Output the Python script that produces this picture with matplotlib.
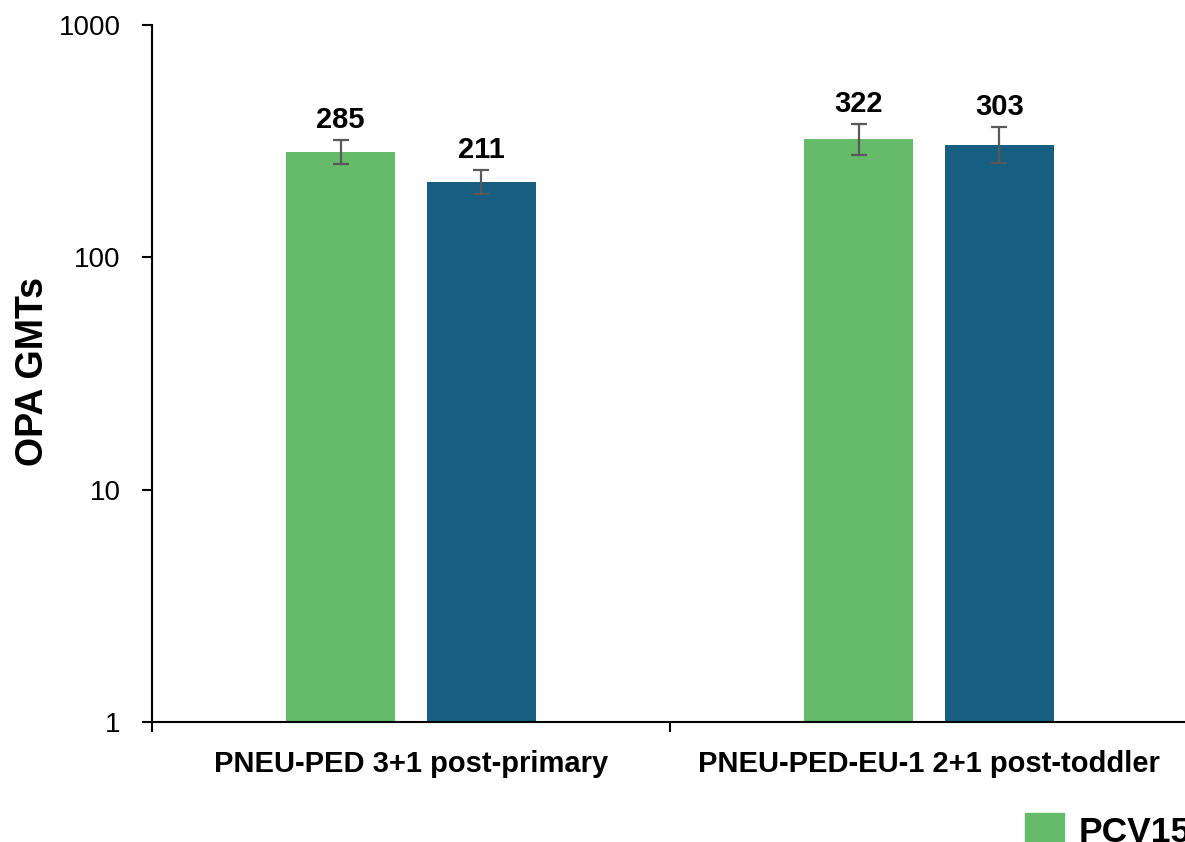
import matplotlib
matplotlib.use("Agg")
import matplotlib.pyplot as plt
import numpy as np
from matplotlib.patches import Patch

plt.rcParams['font.family'] = ['Liberation Sans', 'DejaVu Sans']

categories = ["PNEU-PED 3+1 post-primary", "PNEU-PED-EU-1 2+1 post-toddler"]
series_names = ["PCV15", "PCV13"]
pcv15 = [285, 322]
pcv15_lo = [252, 276]
pcv15_hi = [320, 375]
pcv13 = [211, 303]
pcv13_lo = [187, 255]
pcv13_hi = [238, 364]
colors = ["#66BB6A", "#175E80"]

fig = plt.figure(figsize=(11.85, 8.42), dpi=100)
ax = fig.add_axes([152/1185, 1 - 722/842, (1188-152)/1185, (722-25)/842])

x = np.arange(len(categories))
w = 0.209
off = 0.136
for vals, lo, hi, c, dx in [(pcv15, pcv15_lo, pcv15_hi, colors[0], -off),
                            (pcv13, pcv13_lo, pcv13_hi, colors[1], off)]:
    vals = np.array(vals); lo = np.array(lo); hi = np.array(hi)
    ax.bar(x + dx, vals, width=w, color=c, zorder=2)
    ax.errorbar(x + dx, vals, yerr=[vals - lo, hi - vals], fmt='none',
                ecolor='#595959', elinewidth=1.6, capsize=6, capthick=1.6, zorder=3)
    for xi, v, h in zip(x + dx, vals, hi):
        ax.annotate(f"{v}", (xi, h), xytext=(0, 4), textcoords='offset points',
                    ha='center', va='bottom', fontsize=21, fontweight='bold')

ax.set_yscale('log')
ax.set_ylim(1, 1000)
ax.set_xlim(-0.5, 1.5)
ax.set_yticks([1, 10, 100, 1000])
ax.set_yticklabels(["1", "10", "100", "1000"])
ax.minorticks_off()
ax.tick_params(axis='y', which='major', direction='out', length=7.2, width=1.5,
               labelsize=20, pad=15.5)
ax.set_xticks([-0.5, 0.5, 1.5])
ax.set_xticklabels([])
ax.set_xticks(x, minor=True)
ax.set_xticklabels(categories, minor=True, fontsize=21, fontweight='bold')
ax.tick_params(axis='x', which='major', direction='out', length=7.2, width=1.5)
ax.tick_params(axis='x', which='minor', length=0, pad=20)
for s in ['top', 'right']:
    ax.spines[s].set_visible(False)
for s in ['left', 'bottom']:
    ax.spines[s].set_linewidth(1.5)

ax.set_ylabel("OPA GMTs", fontsize=27, fontweight='bold')
ax.yaxis.set_label_coords((51 - 152) / (1188 - 152), (722 - 371) / 697)

handles = [Patch(color=colors[0], label=series_names[0]),
           Patch(color=colors[1], label=series_names[1])]
fig.legend(handles=handles, loc='upper left', bbox_to_anchor=(993/1185, 1 - 781/842),
           ncol=2, frameon=False, handlelength=1.1, handleheight=1.1,
           prop={'weight': 'bold', 'size': 25.5}, handletextpad=0.42)

fig.savefig("out.png", dpi=100)
